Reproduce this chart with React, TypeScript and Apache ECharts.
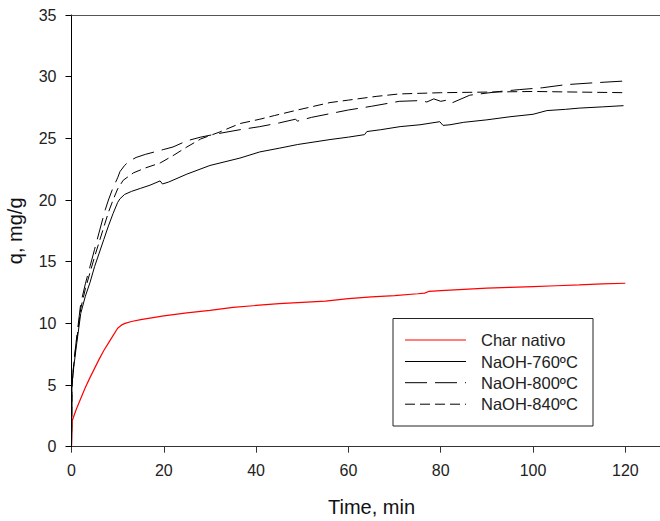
import React, { useEffect, useRef } from "react";
import * as echarts from "echarts";

// ---- Data ----
const charTime = [0, 0.15, 1, 2, 3, 4, 5, 6, 7, 8, 9, 10, 11, 11.6, 13, 15, 20, 25, 30, 35, 40, 45, 50, 55, 60, 65, 70, 75, 76.5, 77.5, 80, 85, 90, 95, 100, 105, 110, 115, 120];
const charQ = [0, 2.1, 3.0, 3.9, 4.8, 5.6, 6.35, 7.1, 7.8, 8.4, 9.0, 9.6, 9.9, 10.0, 10.15, 10.3, 10.6, 10.85, 11.05, 11.3, 11.45, 11.6, 11.7, 11.8, 12.0, 12.15, 12.25, 12.4, 12.45, 12.6, 12.65, 12.75, 12.85, 12.92, 12.98, 13.05, 13.12, 13.2, 13.25];

const naoh760Time = [0, 0.1, 0.5, 1, 2, 3, 4, 5, 6, 7, 8, 9, 10, 10.5, 11.5, 13, 15, 17, 19.2, 19.7, 21, 25, 30, 36.5, 40.8, 45, 49, 56, 60, 63.5, 64, 67, 71.2, 75.5, 79.8, 80.5, 82, 85, 90, 95, 100, 103, 107, 110, 115, 119.6];
const naoh760Q = [0, 5.0, 6.5, 8.0, 10.8, 12.2, 13.3, 14.6, 15.7, 16.8, 17.9, 18.9, 19.8, 20.1, 20.45, 20.7, 20.95, 21.2, 21.55, 21.3, 21.45, 22.1, 22.8, 23.4, 23.9, 24.2, 24.5, 24.9, 25.1, 25.3, 25.55, 25.7, 25.95, 26.1, 26.35, 26.05, 26.1, 26.3, 26.5, 26.75, 26.95, 27.25, 27.35, 27.45, 27.55, 27.65];

const naoh800Time = [0, 0.1, 0.5, 1, 2, 3, 4, 5, 6, 7.3, 8, 9, 10, 10.5, 11.5, 12.5, 14, 16, 18, 20, 22, 25, 28, 32, 36.5, 40.8, 45, 48.5, 49, 52, 56, 60, 65, 71, 75.5, 77, 78.5, 80, 82, 82.6, 86.3, 92.8, 97, 102, 107, 113, 120];
const naoh800Q = [0, 5.0, 6.8, 8.5, 11.6, 13.2, 14.6, 16.0, 17.4, 19.2, 20.0, 21.0, 21.8, 22.3, 22.8, 23.15, 23.45, 23.7, 23.9, 24.1, 24.3, 24.8, 25.1, 25.4, 25.7, 25.95, 26.25, 26.55, 26.4, 26.7, 27.0, 27.3, 27.6, 28.0, 28.06, 27.95, 28.2, 28.0, 28.15, 27.9, 28.5, 28.8, 28.95, 29.1, 29.35, 29.5, 29.65];

const naoh840Time = [0, 0.1, 0.5, 1, 2, 3, 4, 5, 6, 7, 8, 9, 10, 11.2, 13.4, 16, 19.2, 22, 25, 28, 32, 36.5, 40.8, 44, 49, 56, 60, 66, 71, 75.5, 80, 90, 100, 110, 120];
const naoh840Q = [0, 5.0, 6.7, 8.3, 11.2, 12.8, 14.1, 15.4, 16.6, 17.8, 19.0, 20.0, 20.9, 21.6, 22.2, 22.6, 23.0, 23.6, 24.3, 24.95, 25.5, 26.2, 26.55, 26.85, 27.3, 27.9, 28.1, 28.4, 28.6, 28.65, 28.7, 28.75, 28.8, 28.75, 28.7];

const seriesNames = ["Char nativo", "NaOH-760ºC", "NaOH-800ºC", "NaOH-840ºC"];
const xTicks = [0, 20, 40, 60, 80, 100, 120];
const xMax = 130;

const FONT = "'Liberation Sans', Arial, sans-serif";

const pairs = (t: number[], q: number[]) => t.map((v, i) => [v, q[i]]);

export default function App() {
  const ref = useRef<HTMLDivElement>(null);
  useEffect(() => {
    if (!ref.current) return;
    const chart = echarts.init(ref.current, undefined, { renderer: "svg" });
    const styles = [
      { color: "#ff0000", width: 1.2, type: "solid" as any },
      { color: "#000000", width: 1, type: "solid" as any },
      { color: "#000000", width: 1, type: [22, 8] as any },
      { color: "#000000", width: 1, type: [10, 5] as any },
    ];
    const datasets = [
      pairs(charTime, charQ),
      pairs(naoh760Time, naoh760Q),
      pairs(naoh800Time, naoh800Q),
      pairs(naoh840Time, naoh840Q),
    ];
    const lgX = 393, lgY = 318.5, rowY = [340, 361.5, 382.7, 404.2];
    const legendEls: any[] = [
      {
        type: "rect",
        shape: { x: lgX, y: lgY, width: 200, height: 107.5 },
        style: { fill: "#fff", stroke: "#222", lineWidth: 1 },
        z: 100,
      },
    ];
    seriesNames.forEach((n, i) => {
      legendEls.push({
        type: "line",
        shape: { x1: 405, y1: rowY[i], x2: 466, y2: rowY[i] },
        style: {
          stroke: styles[i].color,
          lineWidth: styles[i].width,
          lineDash: Array.isArray(styles[i].type) ? styles[i].type : null,
        },
        z: 101,
      });
      legendEls.push({
        type: "text",
        x: 481,
        y: rowY[i],
        style: {
          text: n,
          fill: "#222",
          font: `16.5px ${FONT}`,
          verticalAlign: "middle",
          align: "left",
        },
        z: 101,
      });
    });
    chart.setOption({
      animation: false,
      backgroundColor: "#fff",
      textStyle: { fontFamily: FONT },
      grid: {
        left: 71.5,
        right: -11.5,
        top: 15,
        bottom: 74.3,
        show: false,
        containLabel: false,
        outerBoundsMode: "none",
      },
      xAxis: [
        {
          type: "value",
          min: 0,
          max: xMax,
          interval: 20,
          name: "Time, min",
          nameLocation: "middle",
          nameGap: 50,
          nameTextStyle: { fontSize: 20, color: "#111", fontFamily: FONT },
          axisLine: { show: true, lineStyle: { color: "#333", width: 1.2 } },
          axisTick: { show: true, inside: false, length: 6, lineStyle: { color: "#333" }, customValues: xTicks },
          axisLabel: {
            fontSize: 16,
            color: "#222",
            margin: 16,
            customValues: xTicks,
          },
          splitLine: { show: false },
        },
        {
          type: "value",
          position: "top",
          min: 0,
          max: xMax,
          interval: 20,
          axisLine: { show: true, lineStyle: { color: "#555", width: 1.2 } },
          axisTick: { show: false },
          axisLabel: { show: false },
          splitLine: { show: false },
        },
      ],
      yAxis: {
        type: "value",
        min: 0,
        max: 35,
        interval: 5,
        name: "q, mg/g",
        nameLocation: "middle",
        nameGap: 47,
        nameTextStyle: { fontSize: 20, color: "#111", fontFamily: FONT },
        axisLine: { show: true, lineStyle: { color: "#000", width: 1 } },
        axisTick: { show: true, inside: false, length: 6, lineStyle: { color: "#000" } },
        axisLabel: { fontSize: 16, color: "#222", margin: 15 },
        splitLine: { show: false },
      },
      series: datasets.map((d, i) => ({
        name: seriesNames[i],
        type: "line",
        xAxisIndex: 0,
        data: d,
        symbol: "none",
        smooth: false,
        lineStyle: { color: styles[i].color, width: styles[i].width, type: styles[i].type },
        itemStyle: { color: styles[i].color },
        z: 2 + i,
      })),
      graphic: legendEls,
    });
    return () => chart.dispose();
  }, []);
  return (
    <div
      ref={ref}
      style={{ position: "fixed", left: 0, top: 0, width: 660, height: 521, background: "#fff" }}
    />
  );
}
